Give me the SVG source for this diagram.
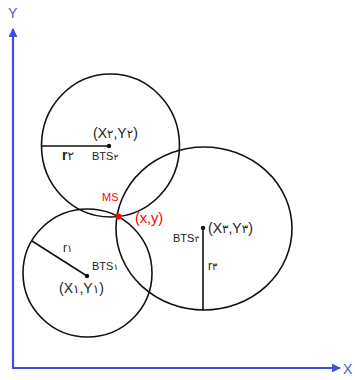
<svg xmlns="http://www.w3.org/2000/svg" width="355" height="380" viewBox="0 0 355 380">
<style>
.c{fill:none;stroke:#111;stroke-width:1.6}
.r{stroke:#111;stroke-width:1.6}
.ax{stroke:#3f4fd8;stroke-width:2.2;fill:none}
.t{font-family:"Liberation Sans","DejaVu Sans",sans-serif;fill:#222}
.d{font-family:"DejaVu Sans",sans-serif;font-weight:normal}
.red{font-family:"Liberation Sans","DejaVu Sans",sans-serif;fill:#f00}
.al{font-family:"Liberation Sans",sans-serif;font-size:14px;fill:#4a5ad8}
</style>
<defs>
<marker id="ah" viewBox="0 0 10 10" refX="9" refY="5" markerWidth="4" markerHeight="4" orient="auto">
<path d="M0,0 L10,5 L0,10 z" fill="#3f4fd8"/>
</marker>
</defs>
<g id="axes">
<path class="ax" d="M13,369 L13,29" marker-end="url(#ah)"/>
<path class="ax" d="M12,368 L340,368" marker-end="url(#ah)"/>
<text class="al" x="8" y="18">Y</text>
<text class="al" x="343" y="374">X</text>
</g>
<g id="bts2">
<ellipse class="c" cx="110.5" cy="145.5" rx="69" ry="71.5"/>
<line class="r" x1="42" y1="146" x2="109" y2="146" stroke-width="2.4"/>
<circle cx="109" cy="146" r="2.2" fill="#111"/>
<text class="t" x="93" y="138" font-size="14">(X<tspan class="d" font-size="12">۲</tspan>,Y<tspan class="d" font-size="12">۲</tspan>)</text>
<text class="t" x="92" y="160" font-size="11">BTS<tspan class="d" font-size="9">۲</tspan></text>
<text class="t" x="62" y="160" font-size="14" font-weight="bold">r<tspan class="d" font-size="12" font-weight="bold">۲</tspan></text>
</g>
<g id="bts3">
<ellipse class="c" cx="204" cy="228.5" rx="88" ry="81.5"/>
<line class="r" x1="203" y1="228" x2="203" y2="310"/>
<circle cx="203" cy="228" r="2.2" fill="#111"/>
<text class="t" x="208" y="233" font-size="14">(X<tspan class="d" font-size="12">۳</tspan>,Y<tspan class="d" font-size="12">۳</tspan>)</text>
<text class="t" x="173" y="242" font-size="11">BTS<tspan class="d" font-size="9">۳</tspan></text>
<text class="t" x="208" y="270" font-size="12">r<tspan class="d" font-size="10">۳</tspan></text>
</g>
<g id="bts1">
<ellipse class="c" cx="87.5" cy="273" rx="64.5" ry="64"/>
<line class="r" x1="87" y1="276" x2="32" y2="241"/>
<circle cx="87" cy="276" r="2.2" fill="#111"/>
<text class="t" x="59" y="293" font-size="14">(X<tspan class="d" font-size="12">۱</tspan>,Y<tspan class="d" font-size="12">۱</tspan>)</text>
<text class="t" x="92" y="270" font-size="11">BTS<tspan class="d" font-size="9">۱</tspan></text>
<text class="t" x="63" y="252" font-size="12">r<tspan class="d" font-size="10">۱</tspan></text>
</g>
<g id="ms">
<circle cx="118.5" cy="216.5" r="3" fill="#f00"/>
<text class="red" x="102" y="201" font-size="11">MS</text>
<text class="red" x="135" y="223" font-size="14.5">(x,y)</text>
</g>
</svg>
